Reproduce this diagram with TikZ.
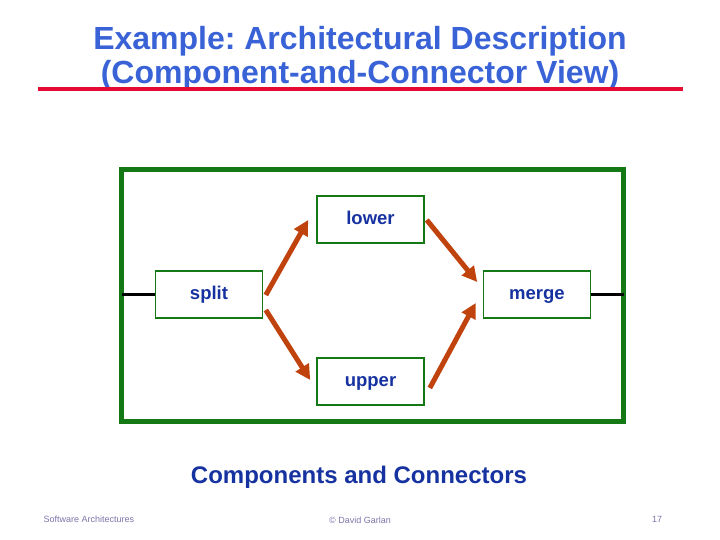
\documentclass[tikz,border=0pt]{standalone}
\usepackage{fontspec}
\setmainfont{Liberation Sans}
\usetikzlibrary{arrows.meta,calc}
\definecolor{titleblue}{RGB}{58,98,215}
\definecolor{labelblue}{RGB}{22,50,160}
\definecolor{boxgreen}{RGB}{20,120,20}
\definecolor{arrowred}{RGB}{192,66,12}
\definecolor{rulered}{RGB}{228,10,50}
\definecolor{footgray}{RGB}{125,115,170}
\frenchspacing
\tikzset{
  comp/.style={draw=boxgreen, line width=1.6pt, minimum width=107pt, minimum height=47pt, inner sep=0pt, text height=13pt, text depth=3pt, font=\fontsize{18.5}{20}\selectfont\bfseries, text=labelblue},
  conn/.style={draw=arrowred, line width=5pt, -{Triangle[length=15pt,width=15pt]}},
  wire/.style={draw=black, line width=3pt},
  foot/.style={font=\fontsize{9}{10}\selectfont, text=footgray}
}
\begin{document}
\begin{tikzpicture}[x=1pt,y=-1pt]
\useasboundingbox (0,0) rectangle (720,540);
\node[font=\fontsize{32}{34}\selectfont\bfseries, text=titleblue, align=center] (title) at (360,58) {Example: Architectural Description\\(Component-and-Connector View)};
\draw[rulered, line width=4pt] (38,89) -- (683,89);
\draw[boxgreen, line width=5pt] (121.5,169.5) rectangle (623.5,421.5);
\coordinate (L) at (121.5,294.5);
\coordinate (R) at (623.5,294.5);
\node[comp] (lower) at (370.5,219.5) {lower};
\node[comp] (split) at (209,294.5) {split};
\node[comp] (merge) at (537,294.5) {merge};
\node[comp] (upper) at (370.5,381.5) {upper};
\draw[wire] (L) -- (split.west);
\draw[wire] (merge.east) -- (R);
\draw[conn] ($(split.east)+(2.5,0.5)$) -- ($(lower.west)+(-8,0.5)$);
\draw[conn] ($(split.east)+(2.5,15.5)$) -- ($(upper.west)+(-6,-1.5)$);
\draw[conn] ($(lower.east)+(2,0.5)$) -- ($(merge.west)+(-5.5,-12.5)$);
\draw[conn] ($(upper.east)+(5,6.5)$) -- ($(merge.west)+(-7,8.5)$);
\node[font=\fontsize{24}{26}\selectfont\bfseries, text=labelblue] (caption) at (359,477) {Components and Connectors};
\node[foot, anchor=west] (f1) at (40,519) {Software Architectures};
\node[foot] (f2) at (360,520) {© David Garlan};
\node[foot] (f3) at (657,519) {17};
\end{tikzpicture}
\end{document}
